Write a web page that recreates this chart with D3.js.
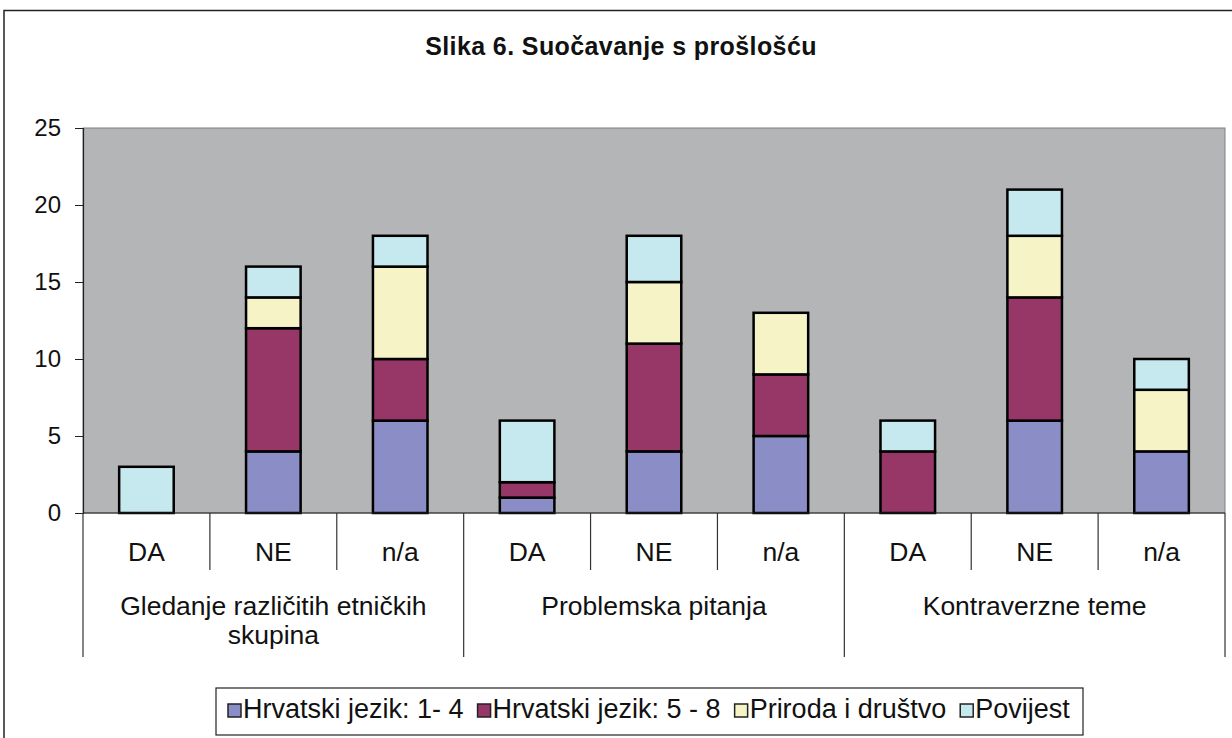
<!DOCTYPE html>
<html>
<head>
<meta charset="utf-8">
<script src="https://cdn.jsdelivr.net/npm/d3@7"></script>
<style>
  body { margin: 0; background: #fff; }
  svg { display: block; font-family: "Liberation Sans", Arial, sans-serif; }
</style>
</head>
<body>
<script>
// chart data
const groups = ["Gledanje različitih etničkih skupina", "Problemska pitanja", "Kontraverzne teme"];
const answers = ["DA", "NE", "n/a"];
const seriesNames = ["Hrvatski jezik: 1- 4", "Hrvatski jezik: 5 - 8", "Priroda i društvo", "Povijest"];
const hrvatski14 = [0, 4, 6, 1, 4, 5, 0, 6, 4];
const hrvatski58 = [0, 8, 4, 1, 7, 4, 4, 8, 0];
const priroda = [0, 2, 6, 0, 4, 4, 0, 4, 4];
const povijest = [3, 2, 2, 4, 3, 0, 2, 3, 2];
const yTicks = [0, 5, 10, 15, 20, 25];

const colors = ["#8b8ec6", "#963768", "#f6f4c6", "#c6e8ef"];

const width = 1232, height = 738;
const margin = { top: 128, right: 7, bottom: 225, left: 83 };

// one row per bar
const rows = [];
groups.forEach((g, gi) => answers.forEach((a, ai) => {
  const i = gi * answers.length + ai;
  rows.push({
    key: i, group: g, answer: a,
    [seriesNames[0]]: hrvatski14[i],
    [seriesNames[1]]: hrvatski58[i],
    [seriesNames[2]]: priroda[i],
    [seriesNames[3]]: povijest[i],
  });
}));

const svg = d3.select("body").append("svg")
  .attr("width", width)
  .attr("height", height);

// outer chart border
svg.append("rect")
  .attr("x", 4).attr("y", 10.5)
  .attr("width", width + 10).attr("height", height + 10)
  .attr("fill", "none")
  .attr("stroke", "#222")
  .attr("stroke-width", 1.5);

svg.append("text")
  .attr("x", 621).attr("y", 55)
  .attr("text-anchor", "middle")
  .attr("font-size", "25px")
  .attr("font-weight", "bold")
  .attr("letter-spacing", "0.4px")
  .attr("fill", "#111")
  .text("Slika 6. Suočavanje s prošlošću");

const x = d3.scaleBand()
  .domain(rows.map(d => d.key))
  .range([margin.left, width - margin.right])
  .paddingInner(0)
  .paddingOuter(0);

const y = d3.scaleLinear()
  .domain([0, 25])
  .range([height - margin.bottom, margin.top]);

// plot area
svg.append("rect")
  .attr("x", margin.left).attr("y", y(25))
  .attr("width", width - margin.right - margin.left)
  .attr("height", y(0) - y(25))
  .attr("fill", "#b4b5b6")
  .attr("stroke", "#808080")
  .attr("stroke-width", 1);

// y axis
const yAxis = svg.append("g")
  .attr("transform", `translate(${margin.left},0)`)
  .call(d3.axisLeft(y).tickValues(yTicks).tickSize(8).tickPadding(14));
yAxis.select(".domain").attr("stroke", "#222").attr("stroke-width", 1.2);
yAxis.selectAll(".tick line").attr("stroke", "#222");
yAxis.selectAll(".tick text")
  .attr("font-size", "24px")
  .attr("fill", "#111")
  .attr("font-family", "Liberation Sans, Arial, sans-serif");

// stacked bars
const stack = d3.stack().keys(seriesNames);
const layers = stack(rows);
const barW = x.bandwidth() * 0.43;

svg.append("g")
  .selectAll("g")
  .data(layers)
  .join("g")
  .attr("fill", (d, i) => colors[i])
  .selectAll("rect")
  .data(d => d.filter(p => p[1] - p[0] > 0))
  .join("rect")
  .attr("x", d => x(d.data.key) + (x.bandwidth() - barW) / 2)
  .attr("y", d => y(d[1]))
  .attr("width", barW)
  .attr("height", d => y(d[0]) - y(d[1]))
  .attr("stroke", "#000")
  .attr("stroke-width", 2.5);

// x axis baseline
const y0 = y(0);
svg.append("line")
  .attr("x1", margin.left).attr("x2", width - margin.right)
  .attr("y1", y0).attr("y2", y0)
  .attr("stroke", "#222").attr("stroke-width", 1.2);

// category separators: short inside a group, long between groups
const edges = d3.range(rows.length + 1);
svg.append("g")
  .selectAll("line")
  .data(edges)
  .join("line")
  .attr("x1", i => i < rows.length ? x(i) : x(i - 1) + x.bandwidth())
  .attr("x2", i => i < rows.length ? x(i) : x(i - 1) + x.bandwidth())
  .attr("y1", y0)
  .attr("y2", i => i % answers.length === 0 ? y0 + 144 : y0 + 57)
  .attr("stroke", "#333")
  .attr("stroke-width", 1.2);

// answer labels
svg.append("g")
  .selectAll("text")
  .data(rows)
  .join("text")
  .attr("x", d => x(d.key) + x.bandwidth() / 2)
  .attr("y", y0 + 48)
  .attr("text-anchor", "middle")
  .attr("font-size", "26.5px")
  .attr("fill", "#111")
  .text(d => d.answer);

// group labels, wrapped to group width
const groupW = x.bandwidth() * answers.length;
groups.forEach((g, gi) => {
  const cx = x(gi * answers.length) + groupW / 2;
  const t = svg.append("text")
    .attr("x", cx).attr("y", y0 + 102)
    .attr("text-anchor", "middle")
    .attr("font-size", "26.5px")
    .attr("fill", "#111");
  const words = g.split(" ");
  let line = [];
  let tspan = t.append("tspan").attr("x", cx).attr("dy", 0);
  words.forEach(w => {
    line.push(w);
    tspan.text(line.join(" "));
    if (tspan.node().getComputedTextLength() > groupW - 40 && line.length > 1) {
      line.pop();
      tspan.text(line.join(" "));
      line = [w];
      tspan = t.append("tspan").attr("x", cx).attr("dy", 29).text(w);
    }
  });
});

// legend
const legend = svg.append("g").attr("transform", "translate(216,688)");
legend.append("rect")
  .attr("width", 867).attr("height", 47)
  .attr("fill", "#fff")
  .attr("stroke", "#222")
  .attr("stroke-width", 1.2);

let lx = 12;
seriesNames.forEach((name, i) => {
  const item = legend.append("g").attr("transform", `translate(${lx},0)`);
  item.append("rect")
    .attr("x", 0).attr("y", 16)
    .attr("width", 13).attr("height", 13)
    .attr("fill", colors[i])
    .attr("stroke", "#222")
    .attr("stroke-width", 1.5);
  const txt = item.append("text")
    .attr("x", 15).attr("y", 30)
    .attr("font-size", "27px")
    .attr("fill", "#111")
    .text(name);
  lx += 15 + txt.node().getComputedTextLength() + 14;
});
</script>
</body>
</html>
